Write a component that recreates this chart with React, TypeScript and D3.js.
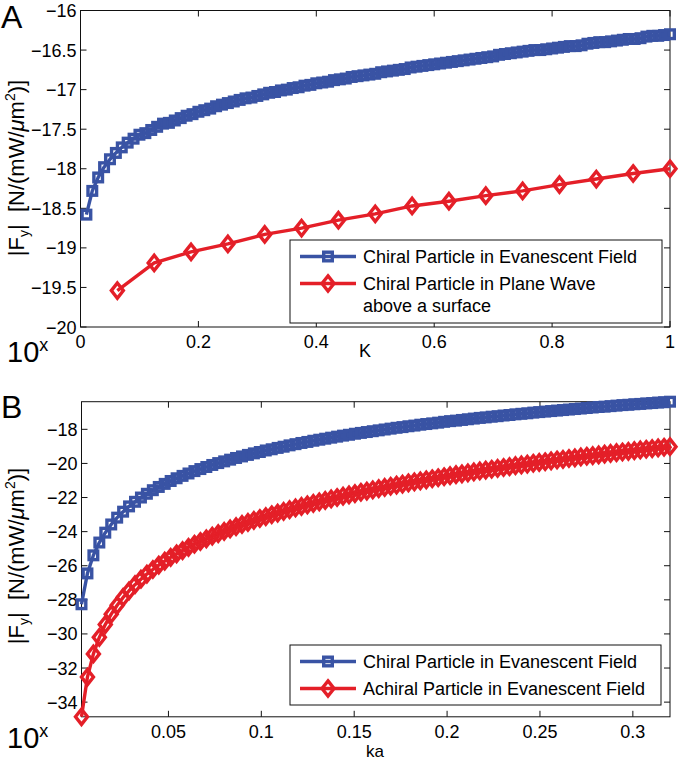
import React from 'react';
import * as d3 from 'd3';

// ---------- Panel A data ----------
const kBlueA = [
  0.01, 0.02, 0.03, 0.04, 0.05, 0.06, 0.07, 0.08, 0.09, 0.10,
  0.11, 0.12, 0.13, 0.14, 0.15, 0.16, 0.17, 0.18, 0.19, 0.20,
  0.21, 0.22, 0.23, 0.24, 0.25, 0.26, 0.27, 0.28, 0.29, 0.30,
  0.31, 0.32, 0.33, 0.34, 0.35, 0.36, 0.37, 0.38, 0.39, 0.40,
  0.41, 0.42, 0.43, 0.44, 0.45, 0.46, 0.47, 0.48, 0.49, 0.50,
  0.51, 0.52, 0.53, 0.54, 0.55, 0.56, 0.57, 0.58, 0.59, 0.60,
  0.61, 0.62, 0.63, 0.64, 0.65, 0.66, 0.67, 0.68, 0.69, 0.70,
  0.71, 0.72, 0.73, 0.74, 0.75, 0.76, 0.77, 0.78, 0.79, 0.80,
  0.81, 0.82, 0.83, 0.84, 0.85, 0.86, 0.87, 0.88, 0.89, 0.90,
  0.91, 0.92, 0.93, 0.94, 0.95, 0.96, 0.97, 0.98, 0.99, 1.00,
];
const fBlueA = [
  -18.58, -18.28, -18.11, -17.98, -17.88, -17.80, -17.73, -17.67, -17.62, -17.57,
  -17.55, -17.51, -17.47, -17.43, -17.42, -17.39, -17.36, -17.33, -17.31, -17.28,
  -17.26, -17.24, -17.21, -17.19, -17.17, -17.15, -17.13, -17.11, -17.10, -17.08,
  -17.06, -17.04, -17.03, -17.01, -17.00, -16.98, -16.97, -16.95, -16.94, -16.92,
  -16.91, -16.90, -16.88, -16.87, -16.86, -16.84, -16.83, -16.82, -16.81, -16.80,
  -16.78, -16.77, -16.76, -16.75, -16.74, -16.72, -16.71, -16.70, -16.69, -16.68,
  -16.67, -16.66, -16.65, -16.64, -16.63, -16.62, -16.61, -16.60, -16.59, -16.58,
  -16.56, -16.55, -16.54, -16.53, -16.52, -16.51, -16.50, -16.50, -16.49, -16.48,
  -16.47, -16.46, -16.45, -16.45, -16.44, -16.42, -16.41, -16.40, -16.40, -16.39,
  -16.38, -16.37, -16.36, -16.36, -16.35, -16.33, -16.32, -16.32, -16.31, -16.30,
];
const kRedA = [
  0.0625, 0.125, 0.1875, 0.25, 0.3125, 0.375, 0.4375, 0.5,
  0.5625, 0.625, 0.6875, 0.75, 0.8125, 0.875, 0.9375, 1.0,
];
const fRedA = [
  -19.54, -19.19, -19.05, -18.95, -18.83, -18.75, -18.65, -18.57,
  -18.47, -18.41, -18.34, -18.28, -18.20, -18.13, -18.06, -18.00,
];

// ---------- Panel B data ----------
const kaB = [
  0.0032, 0.0064, 0.0096, 0.0128, 0.016, 0.0192, 0.0224, 0.0256, 0.0288, 0.032,
  0.0352, 0.0384, 0.0416, 0.0448, 0.048, 0.0512, 0.0544, 0.0576, 0.0608, 0.064,
  0.0672, 0.0704, 0.0736, 0.0768, 0.08, 0.0832, 0.0864, 0.0896, 0.0928, 0.096,
  0.0992, 0.1024, 0.1056, 0.1088, 0.112, 0.1152, 0.1184, 0.1216, 0.1248, 0.128,
  0.1312, 0.1344, 0.1376, 0.1408, 0.144, 0.1472, 0.1504, 0.1536, 0.1568, 0.16,
  0.1632, 0.1664, 0.1696, 0.1728, 0.176, 0.1792, 0.1824, 0.1856, 0.1888, 0.192,
  0.1952, 0.1984, 0.2016, 0.2048, 0.208, 0.2112, 0.2144, 0.2176, 0.2208, 0.224,
  0.2272, 0.2304, 0.2336, 0.2368, 0.24, 0.2432, 0.2464, 0.2496, 0.2528, 0.256,
  0.2592, 0.2624, 0.2656, 0.2688, 0.272, 0.2752, 0.2784, 0.2816, 0.2848, 0.288,
  0.2912, 0.2944, 0.2976, 0.3008, 0.304, 0.3072, 0.3104, 0.3136, 0.3168, 0.32,
];
const fBlueB = [
  -28.26, -26.45, -25.39, -24.64, -24.06, -23.58, -23.18, -22.83, -22.52, -22.25,
  -22.00, -21.78, -21.57, -21.38, -21.20, -21.03, -20.87, -20.73, -20.59, -20.45,
  -20.33, -20.21, -20.09, -19.98, -19.88, -19.78, -19.68, -19.59, -19.50, -19.41,
  -19.33, -19.24, -19.17, -19.09, -19.02, -18.94, -18.87, -18.80, -18.74, -18.67,
  -18.61, -18.55, -18.49, -18.43, -18.37, -18.32, -18.26, -18.21, -18.16, -18.11,
  -18.06, -18.01, -17.96, -17.91, -17.87, -17.82, -17.78, -17.73, -17.69, -17.65,
  -17.61, -17.56, -17.52, -17.49, -17.45, -17.41, -17.37, -17.33, -17.30, -17.26,
  -17.23, -17.19, -17.16, -17.12, -17.09, -17.06, -17.02, -16.99, -16.96, -16.93,
  -16.90, -16.87, -16.84, -16.81, -16.78, -16.75, -16.72, -16.69, -16.67, -16.64,
  -16.61, -16.58, -16.56, -16.53, -16.51, -16.48, -16.46, -16.43, -16.41, -16.38,
];
const fRedB = [
  -34.86, -32.53, -31.17, -30.20, -29.45, -28.84, -28.32, -27.86, -27.47, -27.11,
  -26.79, -26.49, -26.22, -25.96, -25.73, -25.51, -25.30, -25.11, -24.92, -24.74,
  -24.58, -24.42, -24.26, -24.12, -23.98, -23.84, -23.71, -23.58, -23.46, -23.34,
  -23.23, -23.12, -23.01, -22.91, -22.81, -22.71, -22.61, -22.52, -22.43, -22.34,
  -22.25, -22.17, -22.08, -22.00, -21.92, -21.85, -21.77, -21.69, -21.62, -21.55,
  -21.48, -21.41, -21.34, -21.27, -21.21, -21.14, -21.08, -21.02, -20.96, -20.90,
  -20.84, -20.78, -20.72, -20.66, -20.61, -20.55, -20.50, -20.44, -20.39, -20.34,
  -20.29, -20.24, -20.19, -20.13, -20.09, -20.04, -19.99, -19.94, -19.90, -19.85,
  -19.80, -19.76, -19.71, -19.67, -19.62, -19.58, -19.54, -19.50, -19.45, -19.41,
  -19.37, -19.33, -19.29, -19.25, -19.21, -19.17, -19.13, -19.09, -19.05, -19.02,
];

// ---------- ticks / labels ----------
const xTicksA = [0, 0.2, 0.4, 0.6, 0.8, 1];
const yTicksA = [-20, -19.5, -19, -18.5, -18, -17.5, -17, -16.5, -16];
const xTicksB = [0.05, 0.1, 0.15, 0.2, 0.25, 0.3];
const yTicksB = [-34, -32, -30, -28, -26, -24, -22, -20, -18];
const legendA = ['Chiral Particle in Evanescent Field', 'Chiral Particle in Plane Wave', 'above a surface'];
const legendB = ['Chiral Particle in Evanescent Field', 'Achiral Particle in Evanescent Field'];

const BLUE = '#3953a4';
const RED = '#e41f28';
const FONT = "'Liberation Sans', Arial, Helvetica, sans-serif";

const fmt = (v: number) => String(v).replace('-', '\u2212');

function Square({ cx, cy }: { cx: number; cy: number }) {
  return <rect x={cx - 4.3} y={cy - 4.3} width={8.6} height={8.6} fill="none" stroke={BLUE} strokeWidth={3.4} />;
}
function Diamond({ cx, cy }: { cx: number; cy: number }) {
  return (
    <path
      d={`M${cx},${cy - 7.6}L${cx + 6},${cy}L${cx},${cy + 7.6}L${cx - 6},${cy}Z`}
      fill="none"
      stroke={RED}
      strokeWidth={3.4}
      strokeLinejoin="miter"
    />
  );
}

function Series({ xs, ys, x, y, color, marker }: any) {
  const pts: [number, number][] = xs.map((k: number, i: number) => [x(k), y(ys[i])]);
  const line = d3.line();
  return (
    <g>
      <path d={line(pts) || ''} fill="none" stroke={color} strokeWidth={3.4} strokeLinejoin="round" />
      {pts.map(([px, py], i) =>
        marker === 'square' ? <Square key={i} cx={px} cy={py} /> : <Diamond key={i} cx={px} cy={py} />
      )}
    </g>
  );
}

function Frame({ x, y, xTicks, yTicks }: any) {
  const [x0, x1] = x.range();
  const [y0, y1] = y.range(); // y0 bottom, y1 top
  const tl = 6;
  return (
    <g>
      <rect x={x0} y={y1} width={x1 - x0} height={y0 - y1} fill="none" stroke="#111" strokeWidth={1} />
      {xTicks.map((t: number) => (
        <g key={'x' + t}>
          <line x1={x(t)} x2={x(t)} y1={y0} y2={y0 - tl} stroke="#111" />
          <line x1={x(t)} x2={x(t)} y1={y1} y2={y1 + tl} stroke="#111" />
          <text x={x(t)} y={y0 + 21} textAnchor="middle" fontSize={18} fontFamily={FONT}>
            {fmt(t)}
          </text>
        </g>
      ))}
      {yTicks.map((t: number) => (
        <g key={'y' + t}>
          <line x1={x0} x2={x0 + tl} y1={y(t)} y2={y(t)} stroke="#111" />
          <line x1={x1} x2={x1 - tl} y1={y(t)} y2={y(t)} stroke="#111" />
          <text x={x0 - 4} y={y(t) + 6.5} textAnchor="end" fontSize={18} fontFamily={FONT}>
            {fmt(t)}
          </text>
        </g>
      ))}
    </g>
  );
}

function YLabel({ cx, cy }: { cx: number; cy: number }) {
  return (
    <text
      transform={`translate(${cx},${cy}) rotate(-90)`}
      textAnchor="middle"
      fontSize={22}
      fontFamily={FONT}
      style={{ whiteSpace: 'pre' }}
    >
      |F<tspan fontSize={14} dy={5}>y</tspan>
      <tspan dy={-5}>|  [N/(mW/</tspan>
      <tspan fontStyle="italic">μ</tspan>m
      <tspan fontSize={14} dy={-9}>2</tspan>
      <tspan dy={9}>)]</tspan>
    </text>
  );
}

function TenX({ x, y }: { x: number; y: number }) {
  return (
    <text x={x} y={y} fontSize={29} fontFamily={FONT}>
      10<tspan fontSize={18} dy={-11}>x</tspan>
    </text>
  );
}

function LegendEntry({ x, y, color, marker }: any) {
  return (
    <g>
      <line x1={x} x2={x + 56} y1={y} y2={y} stroke={color} strokeWidth={3.4} />
      {marker === 'square' ? <Square cx={x + 28} cy={y} /> : <Diamond cx={x + 28} cy={y} />}
    </g>
  );
}

export default function App() {
  const xA = d3.scaleLinear().domain([0, 1]).range([80.5, 670]);
  const yA = d3.scaleLinear().domain([-20, -16]).range([327, 10.5]);

  const xB = d3.scaleLinear().domain(d3.extent(kaB) as [number, number]).range([81.5, 670]);
  const yB = d3
    .scaleLinear()
    .domain([d3.min(fRedB) as number, d3.max(fBlueB) as number])
    .range([716.8, 401.7]);

  return (
    <svg
      width={680}
      height={762}
      style={{ position: 'absolute', left: 0, top: 0, background: '#fff' }}
      xmlns="http://www.w3.org/2000/svg"
    >
      <rect x={0} y={0} width={680} height={762} fill="#fff" />

      {/* Panel A */}
      <text x={1} y={28} fontSize={32} fontFamily={FONT}>A</text>
      <Frame x={xA} y={yA} xTicks={xTicksA} yTicks={yTicksA} />
      <Series xs={kBlueA} ys={fBlueA} x={xA} y={yA} color={BLUE} marker="square" />
      <Series xs={kRedA} ys={fRedA} x={xA} y={yA} color={RED} marker="diamond" />
      <YLabel cx={24} cy={168} />
      <TenX x={7} y={362} />
      <text x={365} y={357} textAnchor="middle" fontSize={18} fontFamily={FONT}>K</text>
      <g>
        <rect x={290} y={240} width={372} height={83} fill="#fff" stroke="#111" strokeWidth={1} />
        <LegendEntry x={300} y={256.5} color={BLUE} marker="square" />
        <LegendEntry x={300} y={283.5} color={RED} marker="diamond" />
        <text x={363} y={263} fontSize={18} fontFamily={FONT}>{legendA[0]}</text>
        <text x={363} y={290} fontSize={18} fontFamily={FONT}>{legendA[1]}</text>
        <text x={363} y={312} fontSize={18} fontFamily={FONT}>{legendA[2]}</text>
      </g>

      {/* Panel B */}
      <text x={1} y={418} fontSize={32} fontFamily={FONT}>B</text>
      <Frame x={xB} y={yB} xTicks={xTicksB} yTicks={yTicksB} />
      <Series xs={kaB} ys={fBlueB} x={xB} y={yB} color={BLUE} marker="square" />
      <Series xs={kaB} ys={fRedB} x={xB} y={yB} color={RED} marker="diamond" />
      <YLabel cx={24} cy={556} />
      <TenX x={7} y={748} />
      <text x={375} y={757} textAnchor="middle" fontSize={17} fontFamily={FONT}>ka</text>
      <g>
        <rect x={290} y={645} width={371} height={60} fill="#fff" stroke="#111" strokeWidth={1} />
        <LegendEntry x={300} y={661.5} color={BLUE} marker="square" />
        <LegendEntry x={300} y={688.5} color={RED} marker="diamond" />
        <text x={363} y={668} fontSize={18} fontFamily={FONT}>{legendB[0]}</text>
        <text x={363} y={695} fontSize={18} fontFamily={FONT}>{legendB[1]}</text>
      </g>
    </svg>
  );
}
